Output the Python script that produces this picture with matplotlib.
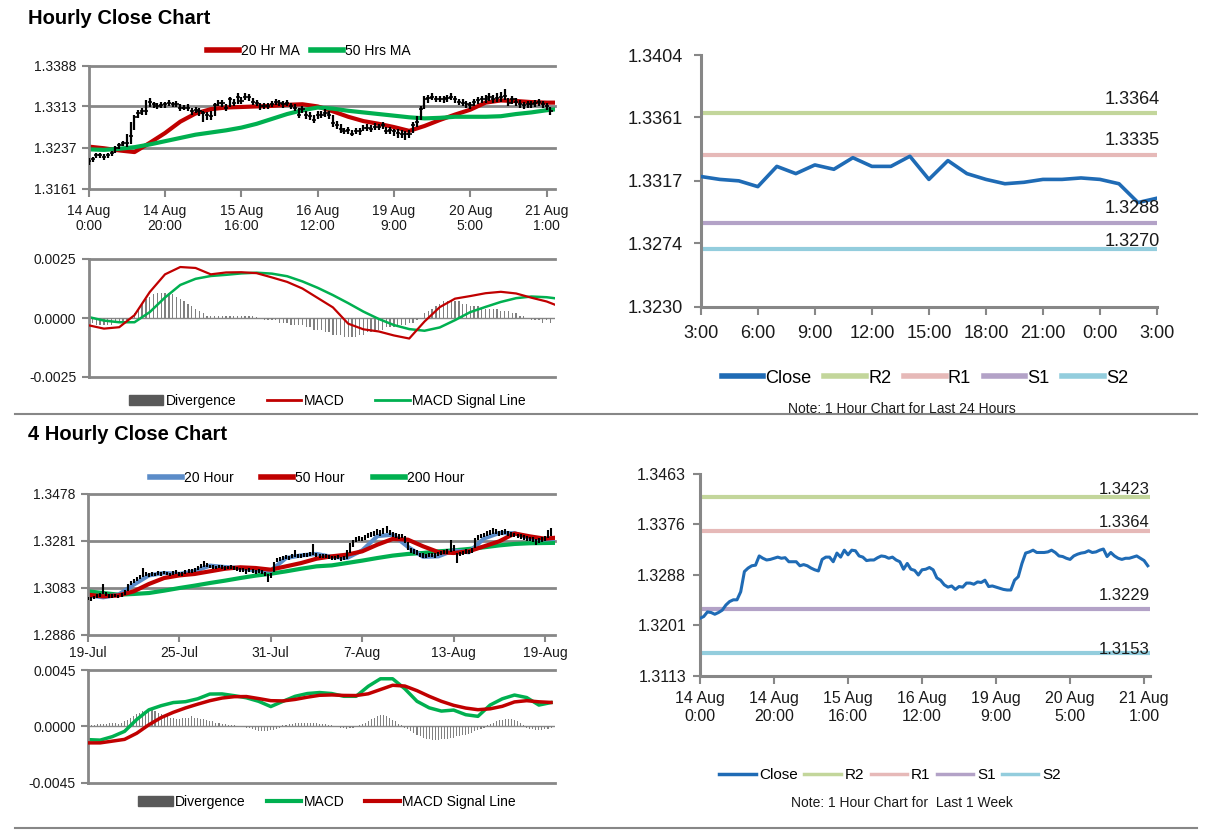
import numpy as np
import matplotlib
matplotlib.use("Agg")
import matplotlib.pyplot as plt
from matplotlib import font_manager
from matplotlib.lines import Line2D
from matplotlib.patches import Patch

# fonts: Arial-like for most text, a condensed face for the 24h panel
_installed = {f.name for f in font_manager.fontManager.ttflist}
SANS = ["Liberation Sans", "DejaVu Sans"]
if "Liberation Sans Narrow" in _installed:
    NARROW, NSCALE = ["Liberation Sans Narrow", "DejaVu Sans"], 1.0
else:
    NARROW, NSCALE = SANS, 0.87
plt.rcParams["font.family"] = SANS

# ---------------------------------------------------------------- data
# hourly chart, 14 Aug 0:00 -> 21 Aug 3:00 (one value per hour)
hour_ticks = ["14 Aug\n0:00", "14 Aug\n20:00", "15 Aug\n16:00", "16 Aug\n12:00",
              "19 Aug\n9:00", "20 Aug\n5:00", "21 Aug\n1:00"]
hr_close = [1.3213, 1.3216, 1.3224, 1.3223, 1.3220, 1.3223, 1.3227, 1.3236, 1.3242, 1.3245,
            1.3245, 1.3259, 1.3294, 1.3300, 1.3304, 1.3305, 1.3321, 1.3317, 1.3314, 1.3315,
            1.3317, 1.3319, 1.3317, 1.3318, 1.3311, 1.3311, 1.3311, 1.3304, 1.3306, 1.3304,
            1.3300, 1.3297, 1.3295, 1.3315, 1.3319, 1.3319, 1.3311, 1.3326, 1.3319, 1.3331,
            1.3323, 1.3331, 1.3330, 1.3321, 1.3319, 1.3313, 1.3314, 1.3314, 1.3318, 1.3321,
            1.3320, 1.3317, 1.3319, 1.3314, 1.3311, 1.3298, 1.3308, 1.3298, 1.3296, 1.3288,
            1.3297, 1.3298, 1.3301, 1.3297, 1.3283, 1.3279, 1.3271, 1.3267, 1.3269, 1.3263,
            1.3268, 1.3267, 1.3274, 1.3274, 1.3272, 1.3276, 1.3275, 1.3279, 1.3268, 1.3269,
            1.3267, 1.3265, 1.3263, 1.3262, 1.3262, 1.3279, 1.3285, 1.3308, 1.3326, 1.3328,
            1.3331, 1.3327, 1.3327, 1.3327, 1.3328, 1.3331, 1.3327, 1.3321, 1.3320, 1.3317,
            1.3315, 1.3321, 1.3324, 1.3326, 1.3327, 1.3330, 1.3327, 1.3328, 1.3331, 1.3333,
            1.3320, 1.3327, 1.3321, 1.3317, 1.3315, 1.3317, 1.3317, 1.3319, 1.3321, 1.3317,
            1.3313, 1.3304]
# hourly bar ranges, pips above 1.3200
hr_low_pips = [6, 10, 18, 18, 15, 18, 22, 28, 35, 40,
               38, 44, 70, 92, 97, 98, 112, 111, 108, 110,
               111, 113, 112, 112, 105, 106, 105, 98, 100, 95,
               85, 88, 88, 96, 113, 112, 104, 112, 113, 118,
               117, 124, 123, 115, 113, 107, 108, 109, 112, 115,
               114, 111, 113, 108, 104, 92, 100, 90, 88, 82,
               90, 92, 94, 90, 76, 72, 64, 62, 63, 58,
               62, 61, 68, 68, 66, 70, 69, 72, 62, 62,
               58, 55, 54, 52, 55, 64, 76, 88, 108, 120,
               124, 121, 121, 120, 122, 124, 120, 115, 114, 111,
               109, 114, 117, 119, 120, 123, 120, 121, 122, 125,
               114, 118, 114, 111, 109, 111, 110, 112, 114, 110,
               106, 98]
hr_high_pips = [18, 20, 28, 27, 25, 28, 31, 40, 46, 50,
                62, 84, 98, 106, 110, 124, 128, 122, 120, 121,
                122, 124, 122, 123, 117, 116, 117, 110, 112, 110,
                105, 103, 104, 120, 125, 124, 118, 131, 126, 137,
                130, 138, 136, 128, 125, 119, 120, 120, 123, 126,
                125, 123, 124, 120, 117, 110, 113, 104, 102, 98,
                104, 104, 108, 104, 98, 86, 80, 74, 75, 70,
                74, 73, 79, 80, 78, 82, 81, 85, 75, 75,
                72, 71, 69, 68, 70, 84, 96, 114, 132, 134,
                137, 133, 133, 133, 134, 137, 133, 127, 126, 123,
                121, 127, 130, 132, 134, 137, 134, 138, 140, 145,
                128, 133, 128, 124, 121, 123, 123, 125, 127, 123,
                120, 112]
# moving averages, sampled every 4 hours
hr_ma20 = [1.3239, 1.3236, 1.3232, 1.3229, 1.3246, 1.3264, 1.3285, 1.3300, 1.3308, 1.3311,
           1.3312, 1.3313, 1.3314, 1.3316, 1.3317, 1.3313, 1.3304, 1.3294, 1.3286, 1.3281,
           1.3275, 1.3268, 1.3277, 1.3288, 1.3298, 1.3307, 1.3320, 1.3324, 1.3323, 1.3321,
           1.3320, 1.3320]
hr_ma50 = [1.3234, 1.3233, 1.3235, 1.3238, 1.3243, 1.3249, 1.3255, 1.3261, 1.3265, 1.3269,
           1.3274, 1.3281, 1.3290, 1.3299, 1.3306, 1.3311, 1.3309, 1.3305, 1.3302, 1.3299,
           1.3296, 1.3293, 1.3291, 1.3292, 1.3294, 1.3294, 1.3294, 1.3295, 1.3299, 1.3302,
           1.3306, 1.3309]
hr_macd = [-0.00031, -0.00045, -0.00039, 0.00012, 0.00110, 0.00185, 0.00216, 0.00212,
           0.00185, 0.00193, 0.00194, 0.00190, 0.00172, 0.00153, 0.00125, 0.00085,
           0.00045, -0.00024, -0.00048, -0.00057, -0.00074, -0.00087, -0.00015, 0.00046,
           0.00082, 0.00093, 0.00105, 0.00111, 0.00104, 0.00086, 0.00070, 0.00045]
hr_signal = [0.00004, -0.00011, -0.00018, -0.00018, 0.00025, 0.00087, 0.00140, 0.00166,
             0.00178, 0.00183, 0.00189, 0.00192, 0.00188, 0.00177, 0.00155, 0.00128,
             0.00097, 0.00063, 0.00027, -0.00004, -0.00030, -0.00047, -0.00054, -0.00040,
             -0.00009, 0.00025, 0.00047, 0.00068, 0.00084, 0.00091, 0.00088, 0.00080]
hr_div = [-0.0001, -0.0002, -0.0003, -0.0003, -0.0003, -0.0003, -0.0003, -0.0002, -0.0002, -0.0002,
          -0.0001, 0.0000, 0.0002, 0.0004, 0.0006, 0.0008, 0.0009, 0.0010, 0.00105, 0.00105,
          0.00105, 0.00105, 0.0010, 0.0009, 0.0008, 0.0007, 0.0006, 0.0005, 0.0004, 0.0003,
          0.0002, 0.0001, 0.0001, 0.0001, 0.0001, 0.0001, 0.0001, 0.0001, 0.0001, 0.0001,
          0.0001, 0.0001, 0.0001, 0.0001, 0.00005, 0.0000, -0.0001, -0.0001, -0.0001, -0.0001,
          -0.0002, -0.0002, -0.0002, -0.0003, -0.0003, -0.0003, -0.0003, -0.0004, -0.0004, -0.0005,
          -0.0005, -0.0005, -0.0006, -0.0006, -0.0007, -0.0007, -0.0007, -0.0008, -0.0008, -0.0008,
          -0.0008, -0.0007, -0.0007, -0.0006, -0.0006, -0.0006, -0.0005, -0.0005, -0.0004, -0.0004,
          -0.0004, -0.0003, -0.0003, -0.0003, -0.0002, -0.0002, -0.0001, 0.0000, 0.0002, 0.0003,
          0.0004, 0.0005, 0.0006, 0.0007, 0.0007, 0.0007, 0.0007, 0.0007, 0.0006, 0.0006,
          0.0005, 0.0005, 0.0005, 0.0004, 0.0004, 0.0004, 0.0004, 0.0004, 0.0003, 0.0003,
          0.0003, 0.0002, 0.0002, 0.0001, 0.0001, 0.0000, -0.0001, -0.0001, -0.0001, -0.0002,
          -0.0001, -0.0002]

hr_price_ticks = [1.3161, 1.3237, 1.3313, 1.3388]
hr_price_labels = ["1.3161", "1.3237", "1.3313", "1.3388"]

# 4 hourly chart, 19 Jul -> 20 Aug (one value per 4h bar)
h4_dates = ["19-Jul", "25-Jul", "31-Jul", "7-Aug", "13-Aug", "19-Aug"]
h4_low_pips = [30, 28, 34, 40, 46, 58, 50, 42, 40, 43,
               38, 44, 52, 70, 96, 102, 110, 121, 128, 132,
               127, 134, 132, 137, 132, 140, 135, 131, 138, 142,
               134, 132, 140, 144, 146, 151, 158, 166, 170, 169,
               164, 162, 160, 164, 162, 157, 160, 162, 158, 154,
               151, 149, 141, 151, 144, 142, 147, 140, 132, 107,
               126, 150, 190, 196, 201, 203, 199, 206, 214, 209,
               206, 211, 213, 216, 222, 213, 209, 206, 209, 203,
               201, 199, 203, 196, 201, 205, 230, 255, 274, 280,
               278, 285, 290, 295, 300, 305, 302, 308, 312, 305,
               298, 292, 288, 290, 270, 240, 230, 225, 220, 211,
               209, 206, 211, 213, 209, 216, 219, 223, 226, 234,
               238, 187, 216, 221, 226, 223, 230, 250, 285, 290,
               295, 300, 305, 308, 308, 302, 305, 308, 302, 298,
               295, 290, 288, 285, 280, 278, 275, 262, 272, 275,
               280, 290, 300]
h4_high_pips = [46, 44, 50, 55, 62, 100, 66, 58, 55, 57,
                53, 60, 72, 98, 112, 118, 128, 137, 166, 148,
                143, 150, 147, 152, 148, 155, 150, 147, 153, 158,
                150, 148, 156, 160, 163, 168, 176, 183, 197, 186,
                180, 178, 176, 180, 178, 173, 176, 178, 174, 170,
                168, 166, 163, 168, 160, 158, 163, 156, 148, 140,
                143, 190, 210, 213, 218, 220, 216, 223, 243, 226,
                223, 228, 230, 233, 267, 230, 226, 223, 226, 220,
                218, 216, 220, 213, 218, 240, 270, 285, 295, 300,
                297, 305, 315, 318, 320, 330, 325, 335, 341, 325,
                318, 312, 308, 310, 300, 275, 250, 245, 240, 229,
                227, 224, 229, 231, 227, 234, 237, 241, 244, 285,
                262, 228, 234, 239, 244, 241, 250, 292, 305, 310,
                315, 320, 325, 332, 328, 322, 325, 328, 322, 318,
                315, 310, 308, 305, 300, 298, 295, 288, 292, 295,
                300, 325, 334]
# moving averages, sampled every 5 bars
h4_ma20 = [1.3051, 1.3043, 1.3054, 1.3096, 1.3135, 1.3145, 1.3141, 1.3152, 1.3176, 1.3170,
           1.3166, 1.3155, 1.3155, 1.3208, 1.3219, 1.3225, 1.3213, 1.3208, 1.3240, 1.3300,
           1.3306, 1.3255, 1.3213, 1.3215, 1.3240, 1.3232, 1.3290, 1.3313, 1.3312, 1.3292,
           1.3286, 1.3290]
h4_ma50 = [1.3054, 1.3047, 1.3051, 1.3068, 1.3099, 1.3124, 1.3135, 1.3141, 1.3152, 1.3163,
           1.3169, 1.3166, 1.3159, 1.3173, 1.3187, 1.3205, 1.3215, 1.3222, 1.3236, 1.3264,
           1.3288, 1.3285, 1.3257, 1.3233, 1.3229, 1.3236, 1.3257, 1.3278, 1.3311, 1.3299,
           1.3289, 1.3295]
h4_ma200 = [1.3068, 1.3061, 1.3054, 1.3057, 1.3061, 1.3071, 1.3082, 1.3092, 1.3103, 1.3113,
            1.3124, 1.3134, 1.3142, 1.3152, 1.3163, 1.3173, 1.3177, 1.3187, 1.3197, 1.3208,
            1.3218, 1.3225, 1.3229, 1.3236, 1.3240, 1.3246, 1.3253, 1.3261, 1.3267, 1.3270,
            1.3271, 1.3272]
# MACD lines, sampled every 4 bars
h4_macd = [-0.00106, -0.00110, -0.00082, -0.00040, 0.00055, 0.00132, 0.00165, 0.00190,
           0.00197, 0.00220, 0.00258, 0.00259, 0.00245, 0.00228, 0.00200, 0.00158,
           0.00200, 0.00240, 0.00262, 0.00270, 0.00262, 0.00240, 0.00240, 0.00320,
           0.00380, 0.00380, 0.00300, 0.00200, 0.00148, 0.00122, 0.00130, 0.00093,
           0.00080, 0.00170, 0.00220, 0.00250, 0.00230, 0.00170, 0.00190]
h4_signal = [-0.00132, -0.00132, -0.00118, -0.00104, -0.00055, 0.00013, 0.00070, 0.00112,
             0.00147, 0.00177, 0.00205, 0.00226, 0.00237, 0.00238, 0.00222, 0.00205,
             0.00203, 0.00215, 0.00233, 0.00248, 0.00251, 0.00247, 0.00246, 0.00260,
             0.00294, 0.00328, 0.00322, 0.00285, 0.00240, 0.00200, 0.00168, 0.00146,
             0.00133, 0.00140, 0.00160, 0.00195, 0.00205, 0.00196, 0.00191]
h4_div = [0.0001, 0.0001, 0.0001, 0.0002, 0.0002, 0.0002, 0.0002,
          0.0003, 0.0003, 0.0003, 0.0002, 0.0003, 0.0004,
          0.0005, 0.0007, 0.0008, 0.0010, 0.0011, 0.0012, 0.0012, 0.0013, 0.0013, 0.0012,
          0.0011, 0.0010, 0.0009, 0.0008,
          0.0007, 0.0007, 0.0006, 0.0006, 0.0007, 0.0007, 0.0007, 0.0008, 0.0007, 0.0007,
          0.0006, 0.0006, 0.0005, 0.0004, 0.0004, 0.0003, 0.0003, 0.0002,
          0.0002, 0.0001, 0.0001, 0.0001, 0.0000, 0.0000, 0.0000, -0.0001, -0.0001, -0.0002,
          -0.0003, -0.0004, -0.0004, -0.0004, -0.0004, -0.0003, -0.0003, -0.0002, -0.0001,
          0.0001, 0.0001, 0.0002, 0.0002, 0.0003, 0.0003, 0.0003, 0.0003, 0.0003, 0.0003,
          0.0003, 0.0003, 0.0002, 0.0002, 0.0002, 0.0001, 0.0001,
          0.0000, 0.0000, -0.0001, -0.0001, -0.0002, -0.0001, -0.0001, 0.0000, 0.0001,
          0.0002, 0.0003, 0.0004, 0.0006, 0.0007, 0.0008, 0.0009, 0.0009, 0.0008, 0.0007,
          0.0005, 0.0004, 0.0002, 0.0001,
          -0.0001, -0.0002, -0.0004, -0.0005, -0.0007, -0.0008, -0.0009, -0.0010, -0.0010,
          -0.0011, -0.0011, -0.0011, -0.0010, -0.0010, -0.0010, -0.0009, -0.0009, -0.0008,
          -0.0008, -0.0007, -0.0007, -0.0006, -0.0005, -0.0004, -0.0003, -0.0002, -0.0001,
          0.0001, 0.0002, 0.0003, 0.0004, 0.0005, 0.0005, 0.0006, 0.0006, 0.0006, 0.0005,
          0.0004, 0.0003, 0.0001,
          -0.0001, -0.0002, -0.0002, -0.0003, -0.0003, -0.0003, -0.0002, -0.0002, -0.0001]

h4_price_ticks = [1.2886, 1.3083, 1.3281, 1.3478]
h4_price_labels = ["1.2886", "1.3083", "1.3281", "1.3478"]

# last 24 hours, 3:00 -> 3:00
day_hours = ["3:00", "6:00", "9:00", "12:00", "15:00", "18:00", "21:00", "0:00", "3:00"]
day_close = [1.3320, 1.3318, 1.3317, 1.3313, 1.3327, 1.3322, 1.3328, 1.3325, 1.3333,
             1.3327, 1.3327, 1.3334, 1.3318, 1.3331, 1.3322, 1.3318, 1.3315, 1.3316,
             1.3318, 1.3318, 1.3319, 1.3318, 1.3315, 1.3302, 1.3305]
day_levels = {"R2": 1.3364, "R1": 1.3335, "S1": 1.3288, "S2": 1.3270}
day_price_ticks = [1.3230, 1.3274, 1.3317, 1.3361, 1.3404]
day_price_labels = ["1.3230", "1.3274", "1.3317", "1.3361", "1.3404"]

# last week levels
week_levels = {"R2": 1.3423, "R1": 1.3364, "S1": 1.3229, "S2": 1.3153}
week_price_ticks = [1.3113, 1.3201, 1.3288, 1.3376, 1.3463]
week_price_labels = ["1.3113", "1.3201", "1.3288", "1.3376", "1.3463"]

# ---------------------------------------------------------------- style
RED = "#C00000"
GREEN = "#00B050"
BLUE20 = "#5B8CC8"
GRID = "#878787"
DIVC = "#808080"
CLOSE = "#1F6BB5"
LEVEL_COLORS = {"R2": "#C3D69B", "R1": "#E6B9B8", "S1": "#B3A2C7", "S2": "#93CDDD"}
TXT = "#1a1a1a"

W, H = 1212, 834


def px_rect(x0, y0, x1, y1):
    return [x0 / W, 1 - y1 / H, (x1 - x0) / W, (y1 - y0) / H]


def px_pt(x, y):
    return (x / W, 1 - y / H)


def style_left(ax, yticks, ylabels, xmax, grid_at):
    ax.set_xlim(0, xmax)
    ax.set_ylim(yticks[0], yticks[-1])
    ax.set_yticks(yticks, ylabels)
    for side in ("top", "right", "bottom"):
        ax.spines[side].set_visible(False)
    ax.spines["left"].set_color(GRID)
    ax.spines["left"].set_linewidth(2)
    ax.tick_params(axis="y", length=5, width=1.5, color=GRID, labelsize=10,
                   pad=4, labelcolor=TXT)
    for v in grid_at:
        ax.axhline(v, color=GRID, lw=2, zorder=0.5, clip_on=False)


def style_right(ax, yticks, ylabels, xmax, xpos, xlabels, family, size, xpad, ypad):
    ax.set_xlim(0, xmax)
    ax.set_ylim(yticks[0], yticks[-1])
    ax.set_yticks(yticks, ylabels, family=family, fontsize=size, color=TXT)
    ax.set_xticks(xpos, xlabels, family=family, fontsize=size, color=TXT,
                  linespacing=1.25)
    for side in ("top", "right"):
        ax.spines[side].set_visible(False)
    for side in ("left", "bottom"):
        ax.spines[side].set_color(GRID)
        ax.spines[side].set_linewidth(2.2)
    ax.tick_params(axis="x", length=6, width=1.5, color=GRID, pad=xpad)
    ax.tick_params(axis="y", length=5, width=1.5, color=GRID, pad=ypad)


def left_legend(handles, labels, center, spacing, hlen=2.3):
    fig.legend(handles, labels, loc="center", bbox_to_anchor=px_pt(*center),
               ncol=len(handles), frameon=False, fontsize=10, handlelength=hlen,
               handletextpad=0.15, columnspacing=spacing, borderpad=0)


fig = plt.figure(figsize=(W / 100, H / 100), dpi=100)

fig.text(*px_pt(28, 18), "Hourly Close Chart", fontsize=14.5, fontweight="bold",
         va="center", ha="left")
fig.text(*px_pt(28, 435), "4 Hourly Close Chart", fontsize=14.5, fontweight="bold",
         va="center", ha="left")
for yy in (414, 828):
    fig.add_artist(Line2D([15 / W, 1197 / W], [1 - yy / H] * 2, color=GRID, lw=1.5))

# ---------------------------------------------------------------- hourly bars + MAs
x_hr = np.arange(len(hr_close))
hr_low = 1.32 + np.array(hr_low_pips) / 1e4
hr_high = 1.32 + np.array(hr_high_pips) / 1e4
ma_x = np.arange(len(hr_ma20)) * 4

ax1 = fig.add_axes(px_rect(88.7, 65.7, 555, 189))
style_left(ax1, hr_price_ticks, hr_price_labels, 122.2, hr_price_ticks)
ax1.plot(ma_x, hr_ma20, color=RED, lw=3, zorder=2)
ax1.plot(ma_x, hr_ma50, color=GREEN, lw=3, zorder=2)
ax1.vlines(x_hr, hr_low, hr_high, color="black", lw=1.6, zorder=3)
ax1.hlines(hr_close, x_hr - 0.5, x_hr + 0.6, color="black", lw=1.2, zorder=3)
ax1.set_xticks(np.arange(len(hour_ticks)) * 20, hour_ticks, linespacing=1.1)
ax1.tick_params(axis="x", length=6, width=1.5, color=GRID, labelsize=10, pad=5,
                labelcolor=TXT)
left_legend([Line2D([], [], color=RED, lw=4), Line2D([], [], color=GREEN, lw=4)],
            ["20 Hr MA", "50 Hrs MA"], (309, 51), 0.8)

# hourly MACD
ax2 = fig.add_axes(px_rect(88.7, 259, 555, 377))
style_left(ax2, [-0.0025, 0.0, 0.0025], ["-0.0025", "0.0000", "0.0025"], 122.2,
           [-0.0025, 0.0025])
ax2.axhline(0, color=GRID, lw=1, zorder=0.6)
ax2.bar(x_hr, hr_div, width=0.35, color=DIVC, zorder=1)
ax2.plot(ma_x, hr_macd, color=RED, lw=1.6, zorder=3)
ax2.plot(ma_x, hr_signal, color=GREEN, lw=1.8, zorder=2)
ax2.set_xticks([])
left_legend([Patch(color="#595959"), Line2D([], [], color=RED, lw=2),
             Line2D([], [], color=GREEN, lw=2)],
            ["Divergence", "MACD", "MACD Signal Line"], (327, 401), 2.2, hlen=2.5)

# ---------------------------------------------------------------- 4 hourly bars + MAs
x_h4 = np.arange(len(h4_low_pips))
h4_low = 1.30 + np.array(h4_low_pips) / 1e4
h4_high = 1.30 + np.array(h4_high_pips) / 1e4
h4_ma_x = np.arange(len(h4_ma20)) * 5

ax4 = fig.add_axes(px_rect(88, 493.7, 554.7, 634.7))
style_left(ax4, h4_price_ticks, h4_price_labels, 153.2, h4_price_ticks)
ax4.plot(h4_ma_x, h4_ma200, color=GREEN, lw=3, zorder=2)
ax4.plot(h4_ma_x, h4_ma50, color=RED, lw=3, zorder=2.2)
ax4.plot(h4_ma_x, h4_ma20, color=BLUE20, lw=3, zorder=2.1)
ax4.vlines(x_h4, h4_low, h4_high, color="black", lw=1.5, zorder=3)
ax4.set_xticks(np.arange(len(h4_dates)) * 30, h4_dates)
ax4.tick_params(axis="x", length=5, width=1.5, color=GRID, labelsize=10, pad=3,
                labelcolor=TXT)
left_legend([Line2D([], [], color=BLUE20, lw=4), Line2D([], [], color=RED, lw=4),
             Line2D([], [], color=GREEN, lw=4)],
            ["20 Hour", "50 Hour", "200 Hour"], (307, 478), 2.0)

# 4 hourly MACD
macd_x = np.arange(len(h4_macd)) * 4
ax5 = fig.add_axes(px_rect(88, 670, 554.7, 782.7))
style_left(ax5, [-0.0045, 0.0, 0.0045], ["-0.0045", "0.0000", "0.0045"], 153.2,
           [-0.0045, 0.0045])
ax5.axhline(0, color=GRID, lw=1, zorder=0.6)
ax5.bar(x_h4, h4_div, width=0.35, color=DIVC, zorder=1)
ax5.plot(macd_x, h4_macd, color=GREEN, lw=2.5, zorder=2)
ax5.plot(macd_x, h4_signal, color=RED, lw=2.5, zorder=3)
ax5.set_xticks([])
left_legend([Patch(color="#595959"), Line2D([], [], color=GREEN, lw=3),
             Line2D([], [], color=RED, lw=3)],
            ["Divergence", "MACD", "MACD Signal Line"], (327, 802), 1.5, hlen=2.5)

# ---------------------------------------------------------------- last 24 hours
fs3 = 15 * NSCALE
ax3 = fig.add_axes(px_rect(700.8, 55, 1157, 306.7))
style_right(ax3, day_price_ticks, day_price_labels, 24, np.arange(len(day_hours)) * 3,
            day_hours, NARROW, fs3, xpad=7, ypad=8)
ax3.plot(np.arange(len(day_close)), day_close, color=CLOSE, lw=2.6, zorder=3,
         solid_joinstyle="round")
day_gap = {"R2": 9, "R1": 10, "S1": 10, "S2": 3}
for name, val in day_levels.items():
    ax3.axhline(val, color=LEVEL_COLORS[name], lw=3, zorder=2)
    ax3.annotate(f"{val:.4f}", (24, val), xytext=(2, day_gap[name] * 0.72),
                 textcoords="offset points", ha="right", va="baseline",
                 family=NARROW, fontsize=fs3, color=TXT, zorder=4)
h3 = [Line2D([], [], color=CLOSE, lw=4)] + \
     [Line2D([], [], color=LEVEL_COLORS[k], lw=4) for k in day_levels]
fig.legend(h3, ["Close"] + list(day_levels), loc="center",
           bbox_to_anchor=px_pt(925, 378), ncol=5, frameon=False,
           prop={"family": NARROW, "size": fs3}, handlelength=2.3,
           handletextpad=0.12, columnspacing=0.7, borderpad=0)
fig.text(*px_pt(902, 409), "Note: 1 Hour Chart for Last 24 Hours", family=NARROW,
         fontsize=11.5 * NSCALE, ha="center", va="center", color=TXT)

# ---------------------------------------------------------------- last week
ax6 = fig.add_axes(px_rect(700, 474, 1150, 676))
style_right(ax6, week_price_ticks, week_price_labels, 121.6,
            np.arange(len(hour_ticks)) * 20, hour_ticks, SANS, 11.5, xpad=5, ypad=5)
ax6.plot(x_hr, hr_close, color=CLOSE, lw=2.2, zorder=3, solid_joinstyle="round")
week_gap = {"R2": 3, "R1": 4, "S1": 9, "S2": -1}
for name, val in week_levels.items():
    ax6.axhline(val, color=LEVEL_COLORS[name], lw=3, zorder=2)
    ax6.annotate(f"{val:.4f}", (121.6, val), xytext=(0, week_gap[name] * 0.72),
                 textcoords="offset points", ha="right", va="baseline",
                 fontsize=12, color=TXT, zorder=4)
h6 = [Line2D([], [], color=CLOSE, lw=2.5)] + \
     [Line2D([], [], color=LEVEL_COLORS[k], lw=2.5) for k in week_levels]
fig.legend(h6, ["Close"] + list(week_levels), loc="center",
           bbox_to_anchor=px_pt(890, 775), ncol=5, frameon=False, fontsize=11,
           handlelength=2.4, handletextpad=0.25, columnspacing=0.4, borderpad=0)
fig.text(*px_pt(902, 803), "Note: 1 Hour Chart for  Last 1 Week", fontsize=10,
         ha="center", va="center", color=TXT)

fig.savefig("out.png", dpi=100)
